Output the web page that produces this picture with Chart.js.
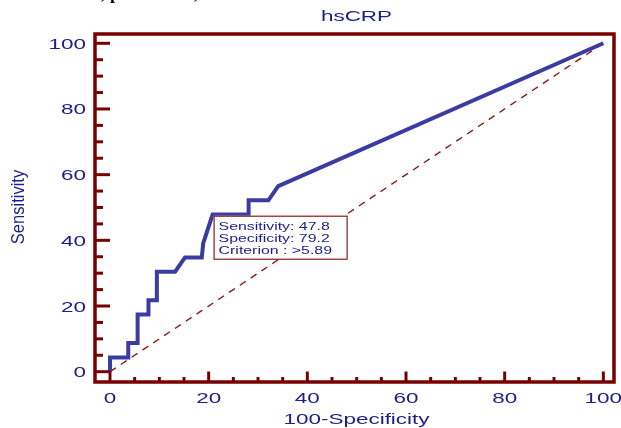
<!DOCTYPE html>
<html>
<head>
<meta charset="utf-8">
<script src="https://cdn.jsdelivr.net/npm/chart.js@4.4.1/dist/chart.umd.min.js"></script>
<style>
    html, body { margin: 0; padding: 0; background: #fff; }
    #wrap { width: 621px; height: 428px; position: relative; }
</style>
</head>
<body>
<div id="wrap"><canvas id="rocChart"></canvas></div>
<script>
// ROC curve points (100-Specificity, Sensitivity)
const rocX = [0, 0, 3.7, 3.7, 5.6, 5.6, 7.8, 7.8, 9.5, 9.5, 13.2, 15.2, 18.6, 18.9, 20.8, 28.1, 28.1, 32.1, 34.1, 100];
const rocY = [0, 4.35, 4.35, 8.7, 8.7, 17.39, 17.39, 21.74, 21.74, 30.43, 30.43, 34.78, 34.78, 39.13, 47.83, 47.83, 52.17, 52.17, 56.52, 100];
const diagX = [0, 100];
const diagY = [0, 100];

const tickValues = [0, 20, 40, 60, 80, 100];
const xTickLabels = ["0", "20", "40", "60", "80", "100"];
const yTickLabels = ["0", "20", "40", "60", "80", "100"];
const minorStep = 5;

const critPoint = [20.8, 47.8];
const critLines = ["Sensitivity: 47.8", "Specificity: 79.2", "Criterion : >5.89"];

const NAVY = "#1c1e8a";
const CURVE = "#3a3ca2";
const FRAME = "#7a0000";
const SX = 1.45;

function wideText(ctx, text, x, y, align, sx) {
    ctx.save();
    ctx.translate(x, y);
    ctx.scale(sx, 1);
    ctx.textAlign = align;
    ctx.textBaseline = "alphabetic";
    ctx.fillText(text, 0, 0);
    ctx.restore();
}

const decorPlugin = {
    id: "decor",
    afterDatasetsDraw(chart) {
        const ctx = chart.ctx;
        const area = chart.chartArea;
        const xs = chart.scales.x;
        const ys = chart.scales.y;

        ctx.save();

        // criterion box
        const bx = xs.getPixelForValue(critPoint[0]) + 1;
        const by = ys.getPixelForValue(critPoint[1]) + 1;
        ctx.fillStyle = "#fff";
        ctx.fillRect(bx, by, 133, 43);
        ctx.strokeStyle = "#8a1c1c";
        ctx.lineWidth = 1.2;
        ctx.strokeRect(bx + 0.5, by + 0.5, 133, 43);
        ctx.fillStyle = NAVY;
        ctx.font = "11.5px 'Liberation Sans', Arial, sans-serif";
        critLines.forEach((line, i) => {
            wideText(ctx, line, bx + 5, by + 14 + i * 12.3, "left", 1.38);
        });

        // frame
        ctx.strokeStyle = FRAME;
        ctx.lineWidth = 3.5;
        ctx.strokeRect(area.left, area.top, area.right - area.left, area.bottom - area.top);

        // inward ticks
        ctx.lineWidth = 3;
        for (let v = 0; v <= 100; v += minorStep) {
            const major = v % 20 === 0;
            const py = ys.getPixelForValue(v);
            ctx.beginPath();
            ctx.moveTo(area.left, py);
            ctx.lineTo(area.left + (major ? 15 : 8), py);
            ctx.stroke();
            const px = xs.getPixelForValue(v);
            ctx.beginPath();
            ctx.moveTo(px, area.bottom);
            ctx.lineTo(px, area.bottom - (major ? 10.5 : 5));
            ctx.stroke();
        }

        // tick labels
        ctx.fillStyle = NAVY;
        ctx.font = "15.5px 'Liberation Sans', Arial, sans-serif";
        tickValues.forEach((v, i) => {
            wideText(ctx, yTickLabels[i], 86, ys.getPixelForValue(v) + 5.5, "right", SX);
            wideText(ctx, xTickLabels[i], xs.getPixelForValue(v), 403, "center", SX);
        });

        // titles
        const cx = (area.left + area.right) / 2 + 2;
        wideText(ctx, "hsCRP", cx, 21, "center", SX);
        wideText(ctx, "100-Specificity", cx, 424, "center", SX);

        ctx.save();
        ctx.translate(24, 207);
        ctx.rotate(-Math.PI / 2);
        ctx.scale(1, 1.15);
        ctx.font = "16.5px 'Liberation Sans', Arial, sans-serif";
        ctx.textAlign = "center";
        ctx.fillText("Sensitivity", 0, 0);
        ctx.restore();

        // clipped line of text above the figure
        ctx.fillStyle = "#000";
        ctx.font = "bold 18px 'Liberation Serif', 'Times New Roman', serif";
        ctx.textAlign = "left";
        ctx.fillText(", p", 101, -1);
        ctx.fillText(",", 194, -1);

        ctx.restore();
    }
};

function toPoints(xArr, yArr) {
    return xArr.map((x, i) => ({ x: x, y: yArr[i] }));
}

const ctx = document.getElementById("rocChart").getContext("2d");

new Chart(ctx, {
    type: "scatter",
    data: {
        datasets: [
            {
                label: "Reference",
                data: toPoints(diagX, diagY),
                showLine: true,
                borderColor: "#8b1a1a",
                borderWidth: 1.4,
                borderDash: [7, 6],
                pointRadius: 0,
                order: 2
            },
            {
                label: "hsCRP",
                data: toPoints(rocX, rocY),
                showLine: true,
                borderColor: CURVE,
                borderWidth: 4,
                borderJoinStyle: "miter",
                pointRadius: 0,
                order: 1
            }
        ]
    },
    options: {
        responsive: true,
        maintainAspectRatio: false,
        animation: false,
        layout: { padding: { top: 34, right: 7, left: 0, bottom: 0 } },
        plugins: {
            legend: { display: false },
            tooltip: { enabled: false },
            title: { display: false }
        },
        scales: {
            x: {
                type: "linear",
                min: -3.04,
                max: 102.16,
                grid: { display: false, drawTicks: false },
                border: { display: false },
                ticks: { display: false },
                afterFit(scale) { scale.height = 46; }
            },
            y: {
                type: "linear",
                min: -3.14,
                max: 102.83,
                grid: { display: false, drawTicks: false },
                border: { display: false },
                ticks: { display: false },
                afterFit(scale) { scale.width = 95; }
            }
        }
    },
    plugins: [decorPlugin]
});
</script>
</body>
</html>
